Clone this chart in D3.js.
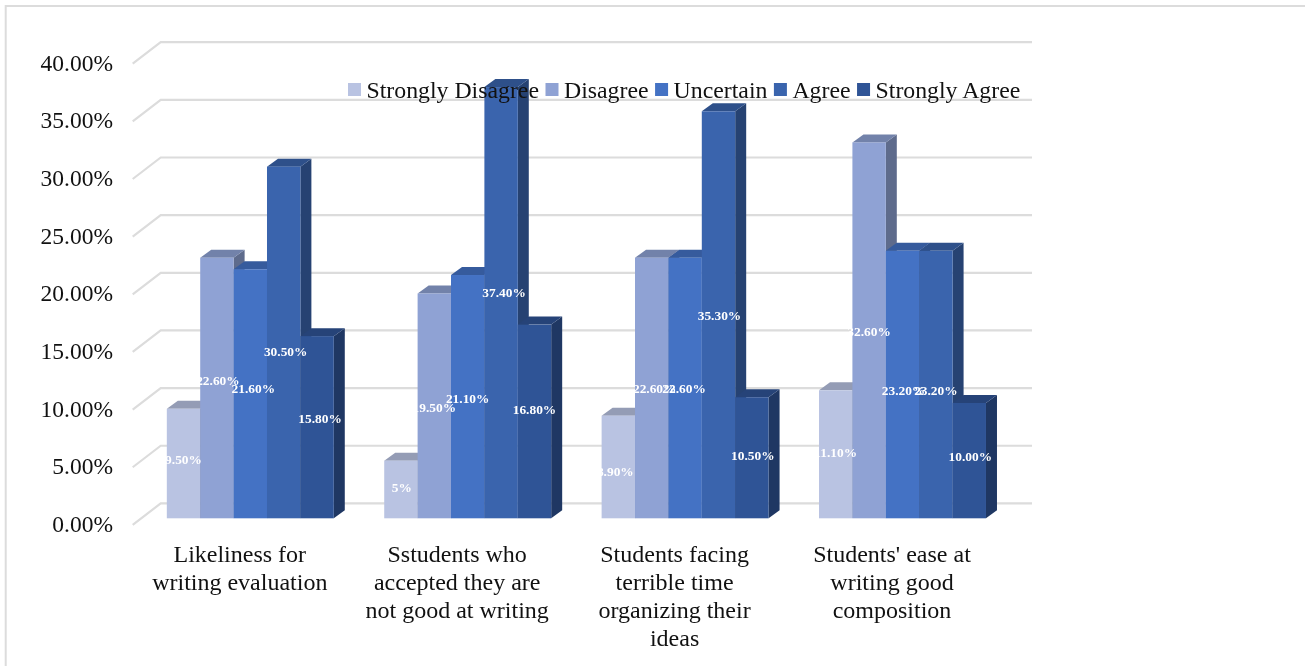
<!DOCTYPE html>
<html>
<head>
<meta charset="utf-8">
<script src="https://cdn.jsdelivr.net/npm/d3@7"></script>
<style>
    html, body { margin: 0; padding: 0; background: #fff; overflow: hidden; }
    text { font-family: "Liberation Serif", serif; fill: #111; }
    /* the source picture is a soft upscale */
    svg { filter: blur(0.4px); }
</style>
</head>
<body>
<div id="my_dataviz"></div>
<script>
// Chart data
const categories = [
    "Likeliness for writing evaluation",
    "Sstudents who accepted they are not good at writing",
    "Students facing terrible time organizing their ideas",
    "Students' ease at writing good composition"
];
const categoryLines = [
    ["Likeliness for", "writing evaluation"],
    ["Sstudents who", "accepted they are", "not good at writing"],
    ["Students facing", "terrible time", "organizing their", "ideas"],
    ["Students' ease at", "writing good", "composition"]
];
const seriesNames = ["Strongly Disagree", "Disagree", "Uncertain", "Agree", "Strongly Agree"];
const stronglyDisagree = [9.5, 5, 8.9, 11.1];
const disagree = [22.6, 19.5, 22.6, 32.6];
const uncertain = [21.6, 21.1, 22.6, 23.2];
const agree = [30.5, 37.4, 35.3, 23.2];
const stronglyAgree = [15.8, 16.8, 10.5, 10.0];
const seriesValues = [stronglyDisagree, disagree, uncertain, agree, stronglyAgree];
const labelText = [
    ["9.50%", "5%", "8.90%", "11.10%"],
    ["22.60%", "19.50%", "22.60%", "32.60%"],
    ["21.60%", "21.10%", "22.60%", "23.20%"],
    ["30.50%", "37.40%", "35.30%", "23.20%"],
    ["15.80%", "16.80%", "10.50%", "10.00%"]
];
const yTicks = [0, 5, 10, 15, 20, 25, 30, 35, 40];

// Layout and colours
const width = 1305, height = 666;
const colors = ["#b9c3e2", "#8fa2d4", "#4472c4", "#3a64ad", "#2f5496"];
const depth = { x: 11, y: 8 };      // bar depth
const wall = { x: 28, y: 21.5 };    // floor depth, front edge to back wall
const frontOffset = 6.6;            // stub ends sit a little below bar base

// Data labels were hand-placed in the source chart, nudges in px
const labelDx = [
    [0, 1, -3, 0],
    [1, 0, 3, 0],
    [3, 0, -1, 1],
    [2, 3, 1, 0],
    [3, 0, 1, 1]
];
const labelDy = [
    [-4.5, -2.5, 4.7, -1.6],
    [-8, 1.8, 0, 1.3],
    [-5, 1.6, 0, 5.5],
    [9, -10, 1, 5.5],
    [-9, -12, -2.5, -4]
];

const svg = d3.select("#my_dataviz")
    .append("svg")
    .attr("width", width)
    .attr("height", height)
    .style("display", "block");

// Scales
const x = d3.scaleBand()
    .domain(d3.range(categories.length))
    .range([141.6, 1011.2])
    .paddingInner(0.232)
    .paddingOuter(0.116);

const bar = d3.scaleBand()
    .domain(d3.range(seriesNames.length))
    .range([0, x.bandwidth()]);

const y = d3.scaleLinear()
    .domain([0, 40])
    .range([518.3, 57.1]);

// Chart frame
svg.append("path")
    .attr("d", "M5.7," + height + "V6H" + width)
    .attr("fill", "none")
    .attr("stroke", "#dcdcdc")
    .attr("stroke-width", 2);

// Gridlines: stub on the floor side, then along the back wall
const backX = 160.7, frontX = backX - wall.x, gridEnd = 1032;
svg.append("g")
    .selectAll("path")
    .data(yTicks)
    .enter()
    .append("path")
    .attr("d", d => {
        const front = y(d) + frontOffset;
        return "M" + frontX + "," + front + "L" + backX + "," + (front - wall.y) + "H" + gridEnd;
    })
    .attr("fill", "none")
    .attr("stroke", "#dcdcdc")
    .attr("stroke-width", 2.2);

// Y axis
const yAxis = svg.append("g")
    .attr("transform", "translate(113," + (frontOffset - 1) + ")")
    .call(d3.axisLeft(y)
        .tickValues(yTicks)
        .tickSize(0)
        .tickPadding(0)
        .tickFormat(d => d3.format(".2f")(d) + "%"));
yAxis.select(".domain").remove();
yAxis.selectAll("text")
    .style("font-family", '"Liberation Serif", serif')
    .style("font-size", "23.5px")
    .style("fill", "#111");

// 3D bars, painted left to right so each one covers the side of the last
function shade(color, k) {
    const c = d3.rgb(color);
    return d3.rgb(c.r * k, c.g * k, c.b * k).formatHex();
}

categories.forEach((cat, ci) => {
    const g = svg.append("g")
        .attr("transform", "translate(" + x(ci) + ",0)");

    seriesNames.forEach((name, si) => {
        const v = seriesValues[si][ci];
        const x0 = bar(si), x1 = x0 + bar.bandwidth();
        const top = y(v), base = y(0);

        g.append("path")
            .attr("d", "M" + x1 + "," + top + "l" + depth.x + "," + (-depth.y) +
                "V" + (base - depth.y) + "L" + x1 + "," + base + "Z")
            .attr("fill", shade(colors[si], 0.66));
        g.append("path")
            .attr("d", "M" + x0 + "," + top + "l" + depth.x + "," + (-depth.y) +
                "H" + (x1 + depth.x) + "L" + x1 + "," + top + "Z")
            .attr("fill", shade(colors[si], 0.8));
        g.append("rect")
            .attr("x", x0)
            .attr("y", top)
            .attr("width", bar.bandwidth())
            .attr("height", base - top)
            .attr("fill", colors[si]);
    });
});

// Data labels go on top of every bar
seriesNames.forEach((name, si) => {
    svg.append("g")
        .selectAll("text")
        .data(seriesValues[si])
        .enter()
        .append("text")
        .attr("x", (d, i) => x(i) + bar(si) + bar.bandwidth() / 2 + labelDx[si][i])
        .attr("y", (d, i) => y(d / 2) + labelDy[si][i])
        .attr("dy", ".35em")
        .attr("text-anchor", "middle")
        .style("font-size", "13.4px")
        .style("font-weight", "bold")
        .style("fill", "#fff")
        .text((d, i) => labelText[si][i]);
});

// Category labels
const catLabels = svg.append("g")
    .selectAll("text")
    .data(categoryLines)
    .enter()
    .append("text")
    .attr("text-anchor", "middle")
    .style("font-size", "24px");

catLabels.selectAll("tspan")
    .data((d, i) => d.map(line => ({ line: line, i: i })))
    .enter()
    .append("tspan")
    .attr("x", d => x(d.i) + x.bandwidth() / 2 - 10.5)
    .attr("y", (d, j) => 562 + j * 28)
    .text(d => d.line);

// Legend, laid out by measured text width
let legendX = 348;
seriesNames.forEach((name, si) => {
    svg.append("rect")
        .attr("x", legendX)
        .attr("y", 83)
        .attr("width", 13)
        .attr("height", 13)
        .attr("fill", colors[si]);
    const label = svg.append("text")
        .attr("x", legendX + 18.5)
        .attr("y", 97.5)
        .style("font-size", "23.8px")
        .text(name);
    legendX += 18.5 + label.node().getComputedTextLength() + 6.5;
});
</script>
</body>
</html>
